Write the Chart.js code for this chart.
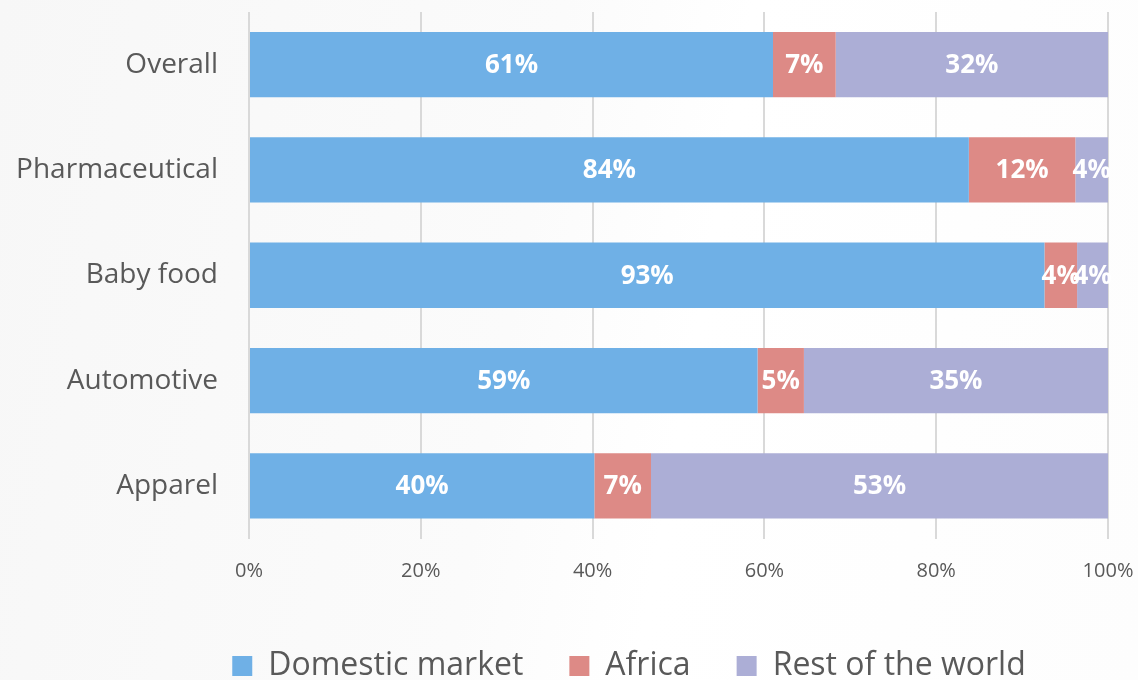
<!doctype html>
<html>
<head>
    <title>Sales by destination</title>
    <script src="https://cdn.jsdelivr.net/npm/chart.js"></script>
    <style>
        html, body { margin: 0; padding: 0; background: #ffffff; }
        .wrapper { width: 1138px; height: 680px; position: relative;
            background: linear-gradient(100deg, #f7f7f7 0%, #fbfbfb 45%, #ffffff 60%, #fdfdfd 100%); }
    </style>
</head>

<body>
    <div class="wrapper">
        <canvas id="chart"></canvas>
    </div>

    <script>
        // Data (share of sales, %)
        var categories = ['Overall', 'Pharmaceutical', 'Baby food', 'Automotive', 'Apparel'];
        var seriesNames = ['Domestic market', 'Africa', 'Rest of the world'];
        var domestic = [61.0, 83.8, 92.6, 59.2, 40.2];
        var africa = [7.3, 12.4, 3.8, 5.4, 6.6];
        var restOfWorld = [31.7, 3.8, 3.6, 35.4, 53.2];
        var colors = ['#6fb0e6', '#dd8a86', '#acaed6'];
        var xTicks = [0, 20, 40, 60, 80, 100];

        var FONT = '"Open Sans", "Noto Sans", sans-serif';
        var GREY = '#595959';

        // Draw the white percentage inside each bar segment
        var barLabels = {
            id: 'barLabels',
            afterDatasetsDraw: function(chart) {
                var ctx = chart.ctx;
                ctx.save();
                ctx.fillStyle = '#ffffff';
                ctx.font = 'bold 26px ' + FONT;
                ctx.textAlign = 'center';
                ctx.textBaseline = 'middle';
                chart.data.datasets.forEach(function(ds, i) {
                    chart.getDatasetMeta(i).data.forEach(function(bar, j) {
                        var p = bar.getCenterPoint();
                        ctx.fillText(Math.round(ds.data[j]) + '%', p.x, p.y + 1);
                    });
                });
                ctx.restore();
            }
        };

        // The legend in the original is centred a bit right of the page centre
        var legendShift = {
            id: 'legendShift',
            afterLayout: function(chart) {
                if (!chart.legend) return;
                chart.legend.left += 75;
                chart.legend.right += 75;
            }
        };

        var ctx = document.getElementById('chart').getContext('2d');
        var chart = new Chart(ctx, {
            type: 'bar',
            data: {
                labels: categories,
                datasets: [
                    { label: seriesNames[0], data: domestic, backgroundColor: colors[0] },
                    { label: seriesNames[1], data: africa, backgroundColor: colors[1] },
                    { label: seriesNames[2], data: restOfWorld, backgroundColor: colors[2] }
                ]
            },
            options: {
                indexAxis: 'y',
                responsive: true,
                maintainAspectRatio: false,
                animation: false,
                layout: { padding: { top: 12, right: 30, left: 0, bottom: -12 } },
                datasets: { bar: { categoryPercentage: 1.0, barPercentage: 0.62 } },
                plugins: {
                    tooltip: { enabled: false },
                    legend: {
                        position: 'bottom',
                        labels: {
                            color: GREY,
                            font: { family: FONT, size: 32 },
                            boxWidth: 20,
                            boxHeight: 20,
                            padding: 46
                        }
                    }
                },
                scales: {
                    x: {
                        stacked: true,
                        min: 0,
                        max: 100,
                        afterBuildTicks: function(scale) {
                            scale.ticks = xTicks.map(function(v) { return { value: v }; });
                        },
                        afterFit: function(scale) {
                            scale.height = 65.5;
                            scale.paddingLeft = 0;
                            scale.paddingRight = 0;
                        },
                        border: { display: false },
                        grid: { color: '#d9d9d9', lineWidth: 2, drawTicks: false },
                        ticks: {
                            color: GREY,
                            padding: 21,
                            font: { family: FONT, size: 20 },
                            callback: function(v) { return v + '%'; }
                        }
                    },
                    y: {
                        stacked: true,
                        afterFit: function(scale) {
                            scale.width = 249;
                            scale.paddingTop = 0;
                            scale.paddingBottom = 0;
                        },
                        border: { display: false },
                        grid: { display: false },
                        ticks: {
                            color: GREY,
                            padding: 23,
                            autoSkip: false,
                            font: { family: FONT, size: 28 }
                        }
                    }
                }
            },
            plugins: [barLabels, legendShift]
        });
    </script>
</body>
</html>
